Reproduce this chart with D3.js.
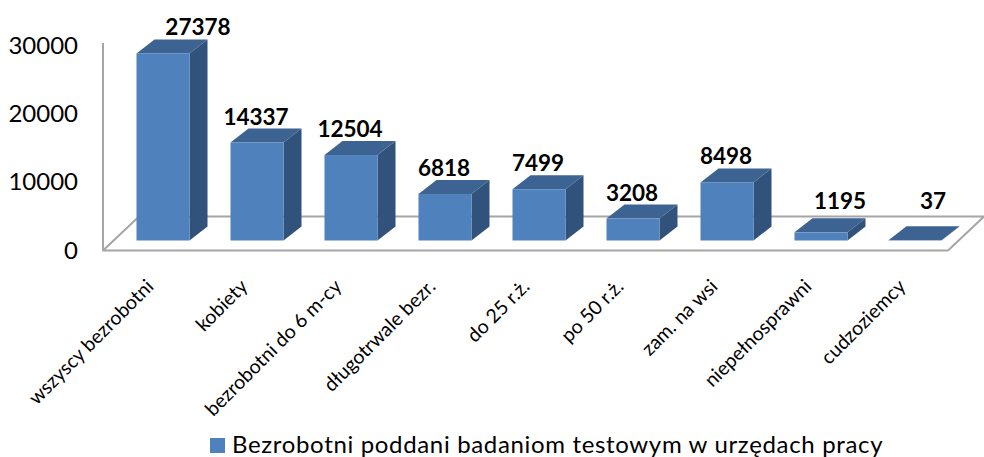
<!DOCTYPE html>
<html><head><meta charset="utf-8">
<script src="https://cdn.jsdelivr.net/npm/d3@7"></script>
<style>html,body{margin:0;padding:0;background:#fff}svg{display:block;font-family:Lato,"Open Sans",sans-serif}</style>
</head><body><svg id="c" width="984" height="457"></svg>
<script>
const categories=["wszyscy bezrobotni","kobiety","bezrobotni do 6 m-cy","długotrwale bezr.","do 25 r.ż.","po 50 r.ż.","zam. na wsi","niepełnosprawni","cudzoziemcy"];
const values=[27378,14337,12504,6818,7499,3208,8498,1195,37];
const yTicks=[0,10000,20000,30000];
const seriesName="Bezrobotni poddani badaniom testowym w urzędach pracy";

const svg=d3.select("#c");
const dx=18,dy=-14;
const x=d3.scaleBand().domain(categories).range([116,962]).paddingInner(0.436).paddingOuter(0.218);
const y=d3.scaleLinear().domain([0,30000]).range([240.5,35.5]);
const col={front:"#4f81bd",top:"#3c6391",side:"#31527b",axis:"#a6a6a6"};

// manually moved data labels in the reference: category -> [dx, baseline y offset]
const labelShift={"wszyscy bezrobotni":[36,0],"niepełnosprawni":[20,-5],"cudzoziemcy":[19,-13]};

const fx0=103,fy0=250.5,fx1=948,bx=36,by=-34;
svg.append("path").attr("fill","none").attr("stroke",col.axis).attr("stroke-width",2)
  .attr("d",`M${fx0},43V${fy0}H${fx1}L${fx1+bx},${fy0+by}H${fx0+bx}L${fx0},${fy0}`);

svg.append("g").selectAll("text").data(yTicks).join("text")
  .attr("x",78).attr("y",d=>y(d)+18).attr("text-anchor","end")
  .attr("font-size",24).attr("fill","#000").text(d=>d);

const bars=svg.append("g").selectAll("g").data(categories).join("g")
  .attr("transform",d=>`translate(${x(d)},0)`);
const w=x.bandwidth();
const val=(i)=>values[i];
bars.append("path").attr("fill",col.side)
  .attr("d",(d,i)=>`M${w},${y(val(i))}l${dx},${dy}V${y(0)+dy}l${-dx},${-dy}Z`);
bars.append("path").attr("fill",col.top)
  .attr("d",(d,i)=>`M0,${y(val(i))}l${dx},${dy}h${w}l${-dx},${-dy}Z`);
bars.append("rect").attr("fill",col.front).attr("width",w)
  .attr("y",(d,i)=>y(val(i))).attr("height",(d,i)=>y(0)-y(val(i)));

bars.append("text")
  .attr("x",d=>w/2-1+(labelShift[d]?labelShift[d][0]:0))
  .attr("y",(d,i)=>y(val(i))+dy-4+(labelShift[d]?labelShift[d][1]:0))
  .attr("text-anchor","middle").attr("font-weight",700).attr("font-size",22.5).attr("fill","#000")
  .text((d,i)=>val(i));

svg.append("g").selectAll("text").data(categories).join("text")
  .attr("transform",d=>`translate(${x(d)+w/2-19},${277}) rotate(-45)`)
  .attr("text-anchor","end").attr("dominant-baseline","hanging")
  .attr("font-size",19.5).attr("fill","#000").text(d=>d);

svg.append("rect").attr("x",210).attr("y",438).attr("width",15).attr("height",15).attr("fill",col.front);
svg.append("text").attr("x",232).attr("y",453).attr("font-size",24).attr("letter-spacing",0.66).attr("fill","#000").text(seriesName);
</script></body></html>
